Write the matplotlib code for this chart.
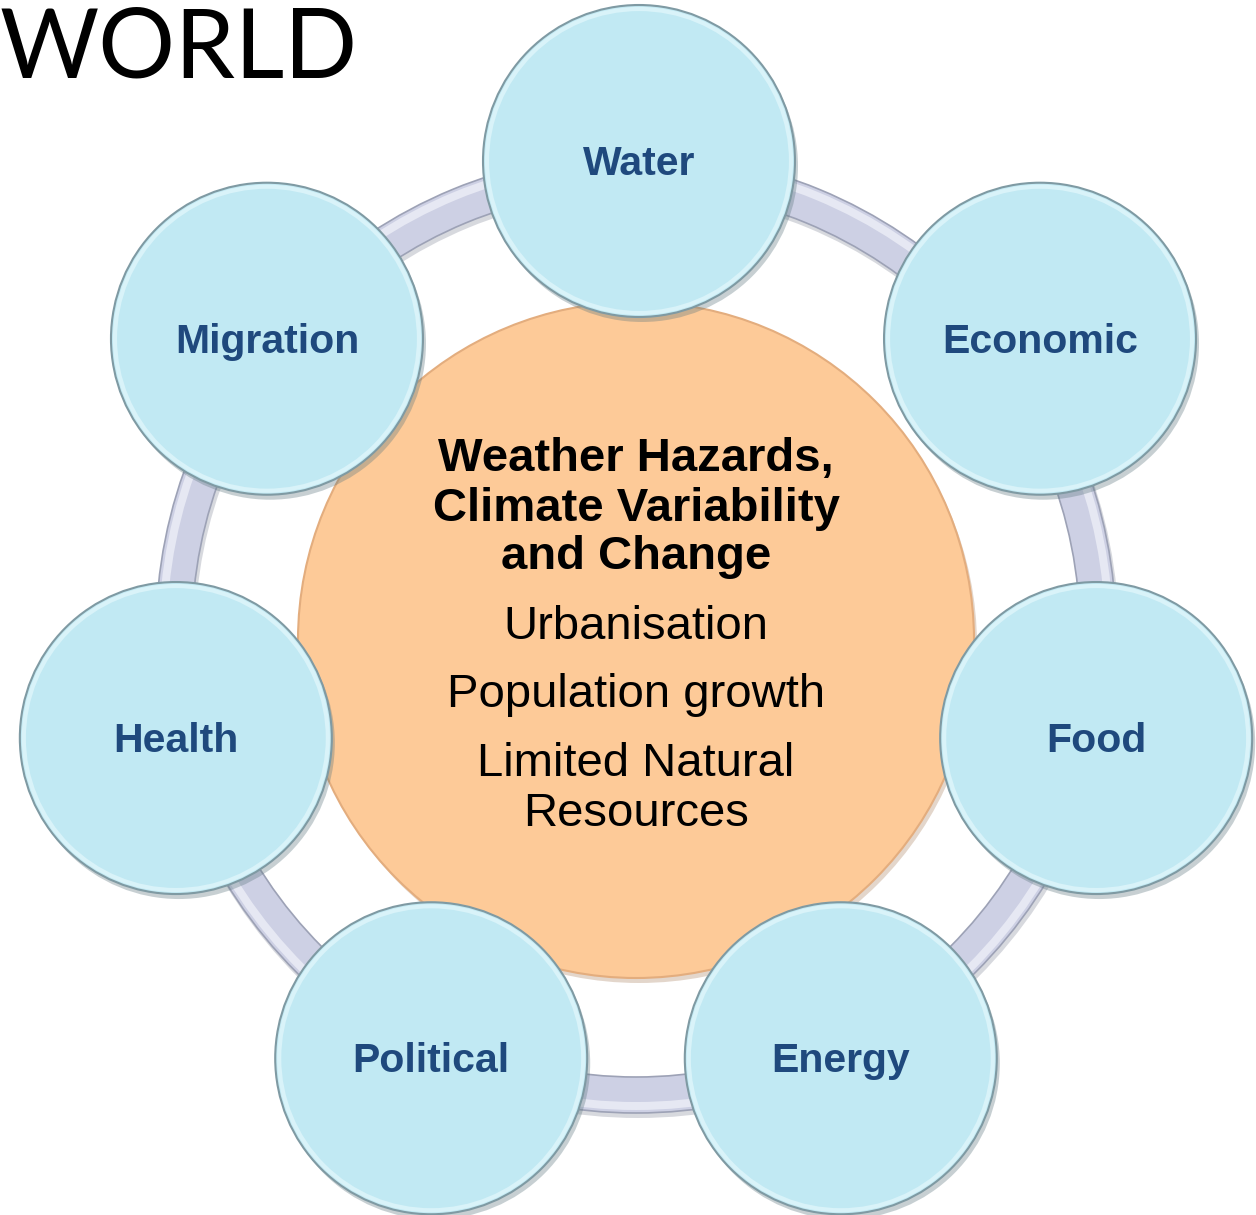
import matplotlib
matplotlib.use("Agg")
import matplotlib.pyplot as plt
from matplotlib.patches import Circle, Wedge
import numpy as np

# ---- content ----
title = "WORLD"
nodes = ["Water", "Economic", "Food", "Energy", "Political", "Health", "Migration"]
center_bold = ["Weather Hazards,", "Climate Variability", "and Change"]
center_regular = ["Urbanisation", "Population growth", "Limited Natural", "Resources"]

# ---- layout ----
W, H = 1256, 1215
hub = (636, 633)
ring_r, ring_w = 462, 36
node_r = 156
node_dist = 472
node_xnudge = [3, 35, 0, 0, 0, 0, 0]
core_c, core_r = (636, 640), 338

fig = plt.figure(figsize=(W / 100, H / 100), dpi=100)
ax = fig.add_axes([0, 0, 1, 1])
ax.set_xlim(0, W)
ax.set_ylim(H, 0)
ax.set_aspect("equal")
ax.axis("off")

# ring
ax.add_patch(Wedge((hub[0] + 2, hub[1] + 4), ring_r + ring_w / 2 + 1, 0, 360, width=ring_w + 2,
                   facecolor="#8f93a3", edgecolor="none", alpha=0.35, zorder=1))
ax.add_patch(Wedge(hub, ring_r + ring_w / 2, 0, 360, width=ring_w,
                   facecolor="#cdd0e4", edgecolor="#9da2b6", lw=1.2, zorder=2))
ax.add_patch(Wedge(hub, ring_r + ring_w / 2 - 3, 0, 360, width=8,
                   facecolor="#e6e8f3", edgecolor="none", zorder=2))

# core
ax.add_patch(Circle((core_c[0] + 3, core_c[1] + 5), core_r, facecolor="#b08a6a",
                    edgecolor="none", alpha=0.35, zorder=3))
ax.add_patch(Circle(core_c, core_r, facecolor="#fdca98", edgecolor="#e3ad7e", lw=1.5, zorder=4))

# nodes
angles = 90 - np.arange(len(nodes)) * 360 / len(nodes)
for name, ang, nx in zip(nodes, angles, node_xnudge):
    x = hub[0] + node_dist * np.cos(np.radians(ang)) + nx
    y = hub[1] - node_dist * np.sin(np.radians(ang))
    ax.add_patch(Circle((x + 3, y + 5), node_r, facecolor="#5f7880", edgecolor="none",
                        alpha=0.35, zorder=5))
    ax.add_patch(Circle((x, y), node_r, facecolor="#c1e9f3", edgecolor="#7f9aa3", lw=1.5, zorder=6))
    ax.add_patch(Circle((x, y), node_r - 4, facecolor="none", edgecolor="#d9f3f9", lw=3, zorder=6))
    ax.text(x, y + 3, name, ha="center", va="center", fontsize=29.5, fontweight="bold",
            family="Liberation Sans", color="#1f497d", zorder=7)

# center text
bold_y = [459, 509, 557]
for t, y in zip(center_bold, bold_y):
    ax.text(core_c[0], y, t, ha="center", va="center", fontsize=34, fontweight="bold",
            family="Liberation Sans", color="black", zorder=8)
reg_y = [627, 695, 764, 814]
for t, y in zip(center_regular, reg_y):
    ax.text(core_c[0], y, t, ha="center", va="center", fontsize=34,
            family="Liberation Sans", color="black", zorder=8)

ax.text(0, 78, title, ha="left", va="baseline", fontsize=69, family="Lato",
        color="black", zorder=9)

fig.savefig("out.png", dpi=100)
